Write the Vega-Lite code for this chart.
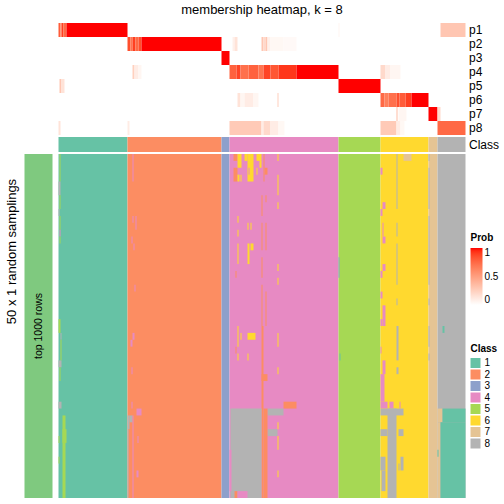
{
"$schema":"https://vega.github.io/schema/vega-lite/v6.json",
"padding":{"left":4.5,"top":4,"right":0,"bottom":0},
"background":"white",
"config":{"view":{"stroke":null},"font":"Liberation Sans","axis":{"labelFont":"Liberation Sans","titleFont":"Liberation Sans"},"legend":{"labelFont":"Liberation Sans","titleFont":"Liberation Sans"}},
"datasets":{
"prob":[
{"k":"p1","s":0,"e":2,"v":0.8},{"k":"p1","s":2,"e":3,"v":0.6},{"k":"p1","s":3,"e":5,"v":0.9},{"k":"p1","s":5,"e":8,"v":0.75},{"k":"p1","s":8,"e":69,"v":1},{"k":"p1","s":280,"e":281,"v":0.05},{"k":"p1","s":382,"e":407,"v":0.3},
{"k":"p2","s":69,"e":72,"v":0.85},{"k":"p2","s":72,"e":74,"v":0.7},{"k":"p2","s":74,"e":77,"v":0.9},{"k":"p2","s":77,"e":80,"v":0.75},{"k":"p2","s":80,"e":83,"v":0.85},{"k":"p2","s":83,"e":163,"v":1},{"k":"p2","s":174,"e":176,"v":0.08},{"k":"p2","s":176,"e":179,"v":0.15},{"k":"p2","s":203,"e":205,"v":0.3},{"k":"p2","s":205,"e":207,"v":0.2},{"k":"p2","s":207,"e":209,"v":0.3},{"k":"p2","s":209,"e":212,"v":0.08},{"k":"p2","s":212,"e":225,"v":0.04},{"k":"p2","s":225,"e":238,"v":0.03},
{"k":"p3","s":163,"e":171,"v":1},
{"k":"p4","s":74,"e":76,"v":0.25},{"k":"p4","s":76,"e":80,"v":0.1},{"k":"p4","s":80,"e":83,"v":0.05},{"k":"p4","s":171,"e":178,"v":0.78},{"k":"p4","s":178,"e":182,"v":0.88},{"k":"p4","s":182,"e":190,"v":0.72},{"k":"p4","s":190,"e":200,"v":0.78},{"k":"p4","s":200,"e":205,"v":0.7},{"k":"p4","s":205,"e":212,"v":0.88},{"k":"p4","s":212,"e":220,"v":0.82},{"k":"p4","s":220,"e":238,"v":0.92},{"k":"p4","s":238,"e":280,"v":1},{"k":"p4","s":322,"e":327,"v":0.2},{"k":"p4","s":327,"e":332,"v":0.1},{"k":"p4","s":332,"e":342,"v":0.05},
{"k":"p5","s":1,"e":3,"v":0.3},{"k":"p5","s":3,"e":6,"v":0.15},{"k":"p5","s":280,"e":322,"v":1},
{"k":"p6","s":179,"e":182,"v":0.15},{"k":"p6","s":182,"e":186,"v":0.05},{"k":"p6","s":186,"e":195,"v":0.1},{"k":"p6","s":195,"e":200,"v":0.05},{"k":"p6","s":219,"e":220,"v":0.25},{"k":"p6","s":322,"e":326,"v":0.75},{"k":"p6","s":326,"e":330,"v":0.65},{"k":"p6","s":330,"e":338,"v":0.72},{"k":"p6","s":338,"e":341,"v":0.85},{"k":"p6","s":341,"e":347,"v":0.8},{"k":"p6","s":347,"e":353,"v":0.9},{"k":"p6","s":353,"e":370,"v":1},
{"k":"p7","s":338,"e":339,"v":0.35},{"k":"p7","s":340,"e":348,"v":0.05},{"k":"p7","s":370,"e":379,"v":1},{"k":"p7","s":379,"e":382,"v":0.2},
{"k":"p8","s":0,"e":2,"v":0.15},{"k":"p8","s":69,"e":71,"v":0.1},{"k":"p8","s":171,"e":203,"v":0.28},{"k":"p8","s":203,"e":205,"v":0.1},{"k":"p8","s":205,"e":212,"v":0.2},{"k":"p8","s":212,"e":220,"v":0.1},{"k":"p8","s":220,"e":226,"v":0.04},{"k":"p8","s":322,"e":338,"v":0.28},{"k":"p8","s":338,"e":342,"v":0.1},{"k":"p8","s":342,"e":346,"v":0.04},{"k":"p8","s":379,"e":407,"v":0.75}
],
"cls":[
{"lab":"Class","s":0,"e":69,"c":1},{"lab":"Class","s":69,"e":163,"c":2},{"lab":"Class","s":163,"e":171,"c":3},{"lab":"Class","s":171,"e":280,"c":4},{"lab":"Class","s":280,"e":322,"c":5},{"lab":"Class","s":322,"e":370,"c":6},{"lab":"Class","s":370,"e":379,"c":7},{"lab":"Class","s":379,"e":407,"c":8}
],
"bar":[{"c0":0,"c1":1,"r0":0,"r1":50,"cm":0.5,"rm":25,"label":"top 1000 rows"}],
"main":[
{"s":0,"e":69,"r0":0,"r1":50,"c":1},{"s":69,"e":163,"r0":0,"r1":50,"c":2},{"s":163,"e":171,"r0":0,"r1":50,"c":3},{"s":171,"e":280,"r0":0,"r1":50,"c":4},{"s":280,"e":322,"r0":0,"r1":50,"c":5},{"s":322,"e":370,"r0":0,"r1":50,"c":6},{"s":370,"e":379,"r0":0,"r1":50,"c":7},{"s":379,"e":407,"r0":0,"r1":50,"c":8},
{"s":1,"e":2,"r0":0,"r1":4,"c":5},{"s":0,"e":2,"r0":4,"r1":6,"c":8},{"s":1,"e":2,"r0":6,"r1":8,"c":5},{"s":0,"e":1,"r0":8,"r1":9,"c":8},{"s":1,"e":2,"r0":9,"r1":11,"c":5},{"s":1,"e":2,"r0":11,"r1":12,"c":4},{"s":1,"e":2,"r0":12,"r1":13,"c":5},{"s":0,"e":2,"r0":24,"r1":26,"c":5},{"s":2,"e":3,"r0":26,"r1":27,"c":8},{"s":2,"e":3,"r0":27,"r1":30,"c":5},{"s":0,"e":3,"r0":30,"r1":31,"c":8},{"s":1,"e":2,"r0":31,"r1":33,"c":5},{"s":0,"e":3,"r0":36,"r1":37,"c":8},{"s":4,"e":7,"r0":38,"r1":50,"c":5},{"s":4,"e":8,"r0":40,"r1":42,"c":5},{"s":0,"e":1,"r0":41,"r1":42,"c":5},{"s":0,"e":1,"r0":44,"r1":45,"c":5},
{"s":74,"e":75,"r0":0,"r1":4,"c":4},{"s":74,"e":75,"r0":9,"r1":10,"c":4},{"s":77,"e":78,"r0":9,"r1":11,"c":4},{"s":73,"e":74,"r0":12,"r1":13,"c":4},{"s":75,"e":76,"r0":13,"r1":14,"c":4},{"s":76,"e":77,"r0":19,"r1":20,"c":4},{"s":74,"e":76,"r0":26,"r1":27,"c":4},{"s":72,"e":74,"r0":27,"r1":28,"c":4},{"s":73,"e":74,"r0":31,"r1":32,"c":4},{"s":73,"e":74,"r0":36,"r1":37,"c":4},{"s":78,"e":83,"r0":37,"r1":38,"c":4},{"s":71,"e":74,"r0":38,"r1":39,"c":8},{"s":69,"e":71,"r0":38,"r1":40,"c":8},{"s":69,"e":70,"r0":40,"r1":50,"c":8},{"s":74,"e":75,"r0":38,"r1":50,"c":4},{"s":79,"e":80,"r0":41,"r1":42,"c":4},{"s":78,"e":80,"r0":46,"r1":47,"c":4},
{"s":175,"e":179,"r0":0,"r1":1,"c":2},{"s":175,"e":179,"r0":2,"r1":4,"c":2},{"s":179,"e":183,"r0":0,"r1":2,"c":6},{"s":179,"e":181,"r0":3,"r1":4,"c":6},{"s":182,"e":183,"r0":3,"r1":4,"c":6},{"s":186,"e":189,"r0":0,"r1":1,"c":6},{"s":189,"e":195,"r0":0,"r1":4,"c":6},{"s":190,"e":191,"r0":2,"r1":3,"c":4},{"s":198,"e":203,"r0":0,"r1":1,"c":6},{"s":201,"e":203,"r0":1,"r1":2,"c":6},{"s":198,"e":199,"r0":2,"r1":3,"c":6},{"s":205,"e":206,"r0":0,"r1":4,"c":2},{"s":206,"e":209,"r0":2,"r1":3,"c":2},{"s":219,"e":220,"r0":0,"r1":1,"c":6},{"s":219,"e":220,"r0":3,"r1":6,"c":6},{"s":219,"e":220,"r0":7,"r1":8,"c":6},{"s":203,"e":204,"r0":6,"r1":9,"c":2},{"s":207,"e":208,"r0":6,"r1":7,"c":2},{"s":179,"e":180,"r0":9,"r1":10,"c":6},{"s":179,"e":180,"r0":11,"r1":12,"c":6},{"s":179,"e":180,"r0":13,"r1":16,"c":6},{"s":189,"e":190,"r0":10,"r1":11,"c":6},{"s":192,"e":193,"r0":10,"r1":11,"c":6},{"s":189,"e":191,"r0":13,"r1":16,"c":6},{"s":192,"e":195,"r0":13,"r1":14,"c":6},{"s":203,"e":204,"r0":10,"r1":14,"c":2},{"s":203,"e":204,"r0":15,"r1":18,"c":2},{"s":203,"e":204,"r0":19,"r1":25,"c":2},{"s":207,"e":208,"r0":10,"r1":14,"c":2},{"s":207,"e":208,"r0":20,"r1":25,"c":2},{"s":177,"e":178,"r0":17,"r1":18,"c":2},{"s":219,"e":220,"r0":16,"r1":17,"c":6},{"s":219,"e":220,"r0":18,"r1":19,"c":6},{"s":280,"e":281,"r0":15,"r1":18,"c":3},{"s":179,"e":180,"r0":25,"r1":28,"c":6},{"s":182,"e":183,"r0":26,"r1":27,"c":6},{"s":189,"e":197,"r0":26,"r1":27,"c":6},{"s":219,"e":220,"r0":26,"r1":28,"c":6},{"s":219,"e":220,"r0":31,"r1":32,"c":6},{"s":219,"e":220,"r0":39,"r1":40,"c":6},{"s":219,"e":220,"r0":41,"r1":43,"c":6},{"s":219,"e":220,"r0":46,"r1":47,"c":6},{"s":177,"e":178,"r0":28,"r1":29,"c":2},{"s":179,"e":180,"r0":29,"r1":30,"c":6},{"s":189,"e":190,"r0":29,"r1":30,"c":6},{"s":203,"e":209,"r0":32,"r1":33,"c":2},{"s":203,"e":205,"r0":25,"r1":50,"c":2},{"s":225,"e":238,"r0":36,"r1":37,"c":2},{"s":172,"e":203,"r0":37,"r1":50,"c":8},{"s":209,"e":225,"r0":37,"r1":38,"c":8},{"s":209,"e":219,"r0":40,"r1":41,"c":8},{"s":205,"e":209,"r0":37,"r1":50,"c":2},{"s":171,"e":173,"r0":43,"r1":49,"c":4},{"s":176,"e":179,"r0":49,"r1":50,"c":2},{"s":179,"e":189,"r0":49,"r1":50,"c":4},{"s":281,"e":282,"r0":29,"r1":30,"c":1},
{"s":345,"e":353,"r0":0,"r1":1,"c":7},{"s":338,"e":339,"r0":0,"r1":8,"c":8},{"s":338,"e":339,"r0":10,"r1":12,"c":8},{"s":338,"e":339,"r0":13,"r1":19,"c":8},{"s":338,"e":339,"r0":21,"r1":22,"c":8},{"s":370,"e":371,"r0":0,"r1":1,"c":8},{"s":370,"e":371,"r0":2,"r1":8,"c":8},{"s":370,"e":371,"r0":9,"r1":19,"c":8},{"s":370,"e":371,"r0":21,"r1":22,"c":8},{"s":324,"e":327,"r0":7,"r1":8,"c":4},{"s":324,"e":327,"r0":12,"r1":13,"c":4},{"s":324,"e":327,"r0":16,"r1":17,"c":4},{"s":324,"e":327,"r0":22,"r1":25,"c":4},{"s":322,"e":324,"r0":2,"r1":3,"c":4},{"s":322,"e":324,"r0":8,"r1":9,"c":4},{"s":322,"e":324,"r0":17,"r1":18,"c":4},{"s":322,"e":324,"r0":20,"r1":21,"c":4},{"s":322,"e":324,"r0":24,"r1":25,"c":4},{"s":324,"e":325,"r0":10,"r1":12,"c":4},{"s":322,"e":323,"r0":28,"r1":29,"c":4},{"s":324,"e":327,"r0":30,"r1":32,"c":4},{"s":322,"e":326,"r0":32,"r1":36,"c":4},{"s":322,"e":329,"r0":36,"r1":37,"c":4},{"s":331,"e":335,"r0":36,"r1":37,"c":4},{"s":341,"e":342,"r0":36,"r1":37,"c":4},{"s":338,"e":340,"r0":25,"r1":30,"c":8},{"s":338,"e":340,"r0":31,"r1":32,"c":8},{"s":370,"e":371,"r0":25,"r1":28,"c":8},{"s":370,"e":371,"r0":29,"r1":30,"c":8},{"s":384,"e":386,"r0":25,"r1":26,"c":1},{"s":322,"e":345,"r0":37,"r1":38,"c":8},{"s":329,"e":338,"r0":37,"r1":50,"c":8},{"s":322,"e":329,"r0":40,"r1":41,"c":8},{"s":340,"e":345,"r0":40,"r1":41,"c":8},{"s":322,"e":327,"r0":44,"r1":46,"c":8},{"s":323,"e":327,"r0":46,"r1":49,"c":8},{"s":342,"e":345,"r0":44,"r1":46,"c":8},{"s":340,"e":341,"r0":45,"r1":46,"c":8},{"s":379,"e":384,"r0":37,"r1":39,"c":7},{"s":379,"e":382,"r0":39,"r1":50,"c":7},{"s":384,"e":407,"r0":37,"r1":39,"c":1},{"s":382,"e":407,"r0":39,"r1":50,"c":1},{"s":379,"e":380,"r0":43,"r1":44,"c":1}
]
},
"columns":2,
"spacing":{"row":2,"column":6},
"bounds":"flush",
"concat":[
{"width":28,"height":112,"data":{"values":[]},"mark":"rect","encoding":{}},
{"width":407,"height":112,
 "title":{"text":"membership heatmap, k = 8","fontSize":13,"fontWeight":"normal","font":"Liberation Sans","offset":6,"anchor":"middle"},
 "data":{"name":"prob"},"mark":"rect",
 "encoding":{
  "x":{"field":"s","type":"quantitative","scale":{"domain":[0,407],"nice":false,"zero":false},"axis":null},
  "x2":{"field":"e"},
  "y":{"field":"k","type":"nominal","scale":{"domain":["p1","p2","p3","p4","p5","p6","p7","p8"],"paddingInner":0,"paddingOuter":0},"axis":{"orient":"right","domain":false,"ticks":false,"labelPadding":3,"labelFontSize":12,"title":null}},
  "color":{"field":"v","type":"quantitative","scale":{"domain":[0,1],"range":["#FFFFFF","#FF0000"],"interpolate":"lab"},
   "legend":{"title":"Prob","orient":"none","legendX":446,"legendY":210,"type":"gradient","direction":"vertical","gradientLength":57,"gradientThickness":12,"values":[0,0.5,1],"format":"~g","labelFontSize":10,"titleFontSize":10,"titleFontWeight":"bold","gradientStrokeWidth":0,"titlePadding":5}}
 }},
{"width":28,"height":15,"data":{"values":[]},"mark":"rect","encoding":{}},
{"width":407,"height":15,"data":{"name":"cls"},"mark":"rect",
 "encoding":{
  "x":{"field":"s","type":"quantitative","scale":{"domain":[0,407],"nice":false,"zero":false},"axis":null},
  "x2":{"field":"e"},
  "y":{"field":"lab","type":"nominal","scale":{"paddingInner":0,"paddingOuter":0},"axis":{"orient":"right","domain":false,"ticks":false,"labelPadding":3,"labelFontSize":12,"title":null}},
  "fill":{"field":"c","type":"nominal","scale":{"domain":[1,2,3,4,5,6,7,8],"range":["#66C2A5","#FC8D62","#8DA0CB","#E78AC3","#A6D854","#FFD92F","#E5C494","#B3B3B3"]},
   "legend":{"title":"Class","orient":"none","legendX":446,"legendY":321,"symbolType":"square","symbolSize":100,"symbolStrokeWidth":0,"symbolOpacity":1,"rowPadding":1.5,"labelFontSize":10,"titleFontSize":10,"titleFontWeight":"bold","labelOffset":4,"titlePadding":4}}
 }},
{"width":28,"height":344,"data":{"name":"bar"},
 "layer":[
  {"mark":{"type":"rect","color":"#7FC97F"},
   "encoding":{
    "x":{"field":"c0","type":"quantitative","scale":{"domain":[0,1],"nice":false},"axis":null},
    "x2":{"field":"c1"},
    "y":{"field":"r0","type":"quantitative","scale":{"domain":[0,50],"reverse":true,"nice":false,"zero":false},"axis":{"title":"50 x 1 random samplings","labels":false,"ticks":false,"domain":false,"grid":false,"titleFontSize":13,"titleFontWeight":"normal","titleX":-13,"titleY":97,"titleBaseline":"middle","titleAngle":270,"titleAlign":"center"}},
    "y2":{"field":"r1"}}},
  {"mark":{"type":"text","angle":270,"fontSize":10.5,"color":"black","baseline":"middle","align":"center"},
   "encoding":{
    "x":{"field":"cm","type":"quantitative"},
    "y":{"field":"rm","type":"quantitative"},
    "text":{"field":"label"}}}
 ]},
{"width":407,"height":344,"data":{"name":"main"},"mark":"rect",
 "encoding":{
  "x":{"field":"s","type":"quantitative","scale":{"domain":[0,407],"nice":false,"zero":false},"axis":null},
  "x2":{"field":"e"},
  "y":{"field":"r0","type":"quantitative","scale":{"domain":[0,50],"reverse":true,"nice":false,"zero":false},"axis":null},
  "y2":{"field":"r1"},
  "fill":{"field":"c","type":"nominal","scale":{"domain":[1,2,3,4,5,6,7,8],"range":["#66C2A5","#FC8D62","#8DA0CB","#E78AC3","#A6D854","#FFD92F","#E5C494","#B3B3B3"]},
   "legend":{"title":"Class","orient":"none","legendX":446,"legendY":321,"symbolType":"square","symbolSize":100,"symbolStrokeWidth":0,"symbolOpacity":1,"rowPadding":1.5,"labelFontSize":10,"titleFontSize":10,"titleFontWeight":"bold","labelOffset":4,"titlePadding":4}}
 }}
],
"resolve":{"scale":{"x":"independent","y":"independent","color":"shared","fill":"shared"},"legend":{"color":"shared","fill":"shared"}}
}
